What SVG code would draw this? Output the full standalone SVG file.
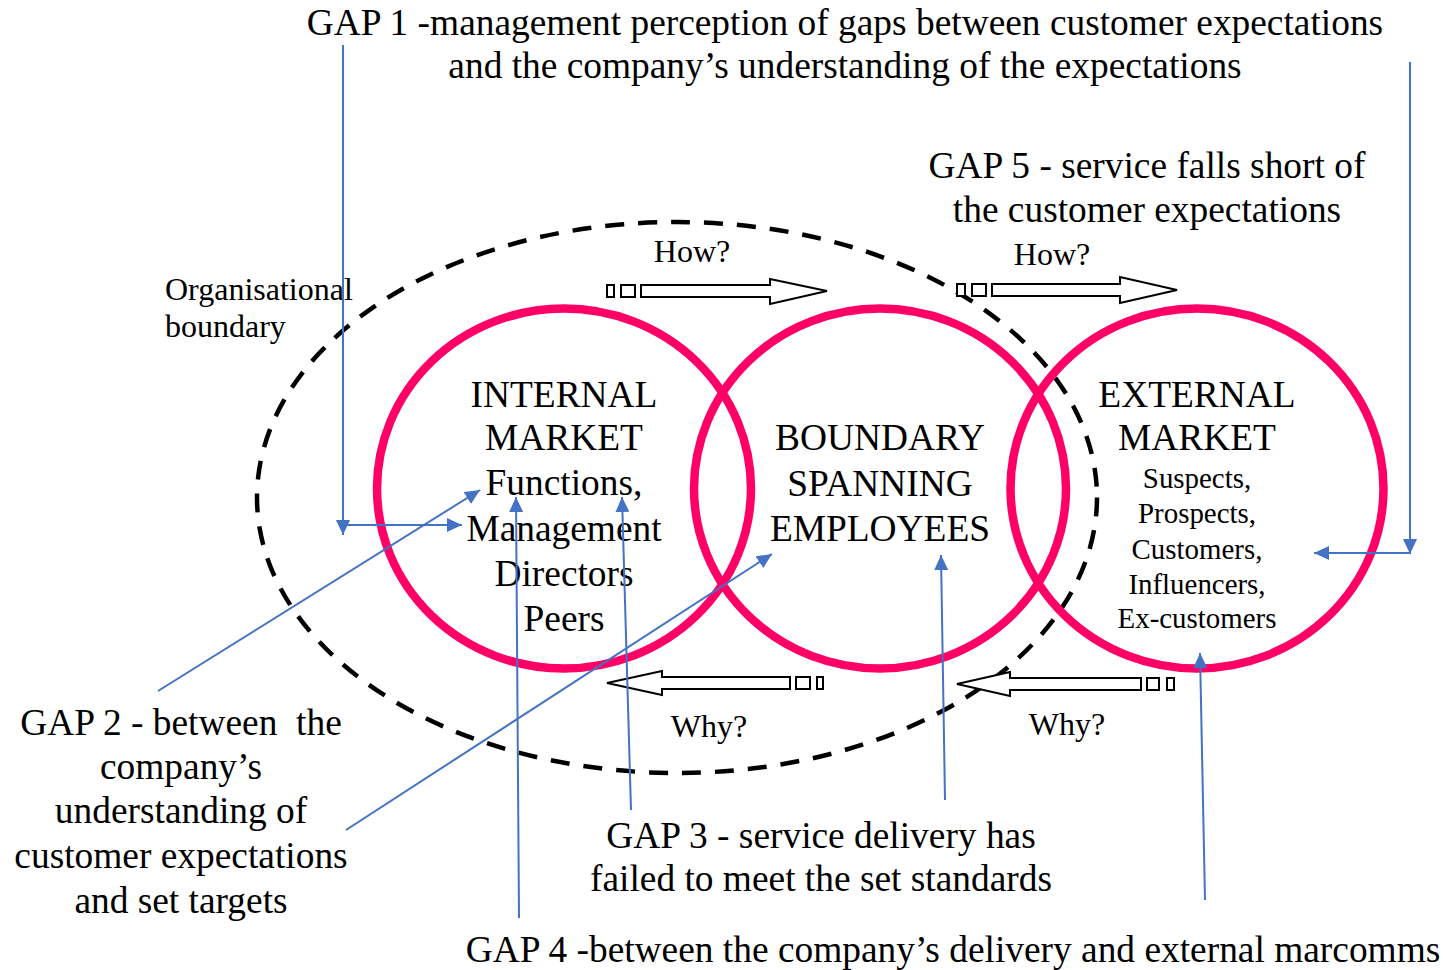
<svg xmlns="http://www.w3.org/2000/svg" width="1443" height="970" viewBox="0 0 1443 970">
  <style>
    text { font-family: "Liberation Serif", "Times New Roman", serif; fill: #000; text-anchor: middle; }
    .gap { font-size: 37.4px; }
    .head { font-size: 37.4px; }
    .sub { font-size: 28.9px; }
    .q { font-size: 32px; }
    .ring { fill: none; stroke: #FF0066; stroke-width: 8.5; }
    .boundary { fill: none; stroke: #000; stroke-width: 4.5; stroke-dasharray: 19 14; }
    .flow { fill: #fff; stroke: #000; stroke-width: 2; }
    .link { fill: none; stroke: #4472C4; stroke-width: 2; }
    .tip { stroke: none; fill: #4472C4; }
  </style>
  <defs>
    <marker id="arrow" markerUnits="userSpaceOnUse" markerWidth="15" markerHeight="14" viewBox="0 0 15 14" refX="15" refY="7" orient="auto">
      <path class="tip" d="M0,0 L15,7 L0,14 z"/>
    </marker>
  </defs>

  <rect width="1443" height="970" fill="#fff"/>

  <!-- organisational boundary -->
  <g id="org-boundary">
    <ellipse class="boundary" cx="677" cy="497.5" rx="420" ry="275.5"/>
    <text class="q" style="text-anchor:start" x="165" y="300">Organisational</text>
    <text class="q" style="text-anchor:start" x="165" y="337">boundary</text>
  </g>

  <!-- the three markets -->
  <g id="internal-market">
    <ellipse class="ring" cx="564" cy="488.5" rx="187" ry="180"/>
    <text class="head" x="564" y="407">INTERNAL</text>
    <text class="head" x="564" y="450">MARKET</text>
    <text class="head" x="564" y="495">Functions,</text>
    <text class="head" x="564" y="541">Management</text>
    <text class="head" x="564" y="586">Directors</text>
    <text class="head" x="564" y="631">Peers</text>
  </g>
  <g id="boundary-spanning">
    <ellipse class="ring" cx="880" cy="488.5" rx="186" ry="180"/>
    <text class="head" x="880" y="450">BOUNDARY</text>
    <text class="head" x="880" y="496">SPANNING</text>
    <text class="head" x="880" y="541">EMPLOYEES</text>
  </g>
  <g id="external-market">
    <ellipse class="ring" cx="1197" cy="488.5" rx="186.5" ry="180"/>
    <text class="head" x="1197" y="407">EXTERNAL</text>
    <text class="head" x="1197" y="450">MARKET</text>
    <text class="sub" x="1197" y="488">Suspects,</text>
    <text class="sub" x="1197" y="523">Prospects,</text>
    <text class="sub" x="1197" y="559">Customers,</text>
    <text class="sub" x="1197" y="594">Influencers,</text>
    <text class="sub" x="1197" y="628">Ex-customers</text>
  </g>

  <!-- How? / Why? flows -->
  <g id="flow-how-1">
    <rect class="flow" x="607" y="285" width="7" height="12"/>
    <rect class="flow" x="621" y="285" width="14" height="12"/>
    <polygon class="flow" points="641,285 770,285 770,279 827,291 770,304 770,297 641,297"/>
    <text class="q" x="692" y="262">How?</text>
  </g>
  <g id="flow-how-2">
    <rect class="flow" x="957" y="284" width="8" height="12"/>
    <rect class="flow" x="972" y="284" width="14" height="12"/>
    <polygon class="flow" points="992,284 1120,284 1120,277 1177,290 1120,303 1120,296 992,296"/>
    <text class="q" x="1052" y="265">How?</text>
  </g>
  <g id="flow-why-1">
    <polygon class="flow" points="607,683 662,671 662,677 790,677 790,689 662,689 662,695"/>
    <rect class="flow" x="796" y="677" width="14" height="12"/>
    <rect class="flow" x="817" y="677" width="6" height="12"/>
    <text class="q" x="709" y="737">Why?</text>
  </g>
  <g id="flow-why-2">
    <polygon class="flow" points="957,684 1010,672 1010,678 1141,678 1141,690 1010,690 1010,696"/>
    <rect class="flow" x="1147" y="678" width="12" height="12"/>
    <rect class="flow" x="1167" y="678" width="7" height="12"/>
    <text class="q" x="1067" y="735">Why?</text>
  </g>

  <!-- gap labels -->
  <g id="gap1">
    <text class="gap" x="845" y="35">GAP 1 -management perception of gaps between customer expectations</text>
    <text class="gap" x="845" y="78">and the company’s understanding of the expectations</text>
  </g>
  <g id="gap5">
    <text class="gap" x="1147" y="178">GAP 5 - service falls short of</text>
    <text class="gap" x="1147" y="222">the customer expectations</text>
  </g>
  <g id="gap2">
    <text class="gap" x="181" y="735" xml:space="preserve">GAP 2 - between  the</text>
    <text class="gap" x="181" y="779">company’s</text>
    <text class="gap" x="181" y="823">understanding of</text>
    <text class="gap" x="181" y="868">customer expectations</text>
    <text class="gap" x="181" y="913">and set targets</text>
  </g>
  <g id="gap3">
    <text class="gap" x="821" y="848">GAP 3 - service delivery has</text>
    <text class="gap" x="821" y="891">failed to meet the set standards</text>
  </g>
  <g id="gap4">
    <text class="gap" x="953" y="962">GAP 4 -between the company’s delivery and external marcomms</text>
  </g>

  <!-- connectors -->
  <g id="connectors">
    <line class="link" x1="343" y1="45" x2="343" y2="535" marker-end="url(#arrow)"/>
    <line class="link" x1="343" y1="525" x2="462" y2="525" marker-end="url(#arrow)"/>
    <line class="link" x1="1410" y1="62" x2="1410" y2="554" marker-end="url(#arrow)"/>
    <line class="link" x1="1410" y1="553" x2="1314" y2="553" marker-end="url(#arrow)"/>
    <line class="link" x1="158" y1="691" x2="480" y2="490" marker-end="url(#arrow)"/>
    <line class="link" x1="346" y1="830" x2="772" y2="554" marker-end="url(#arrow)"/>
    <line class="link" x1="631" y1="810" x2="622" y2="497" marker-end="url(#arrow)"/>
    <line class="link" x1="945" y1="800" x2="941" y2="555" marker-end="url(#arrow)"/>
    <line class="link" x1="519" y1="918" x2="516" y2="497" marker-end="url(#arrow)"/>
    <line class="link" x1="1205" y1="900" x2="1200" y2="653" marker-end="url(#arrow)"/>
  </g>
</svg>
